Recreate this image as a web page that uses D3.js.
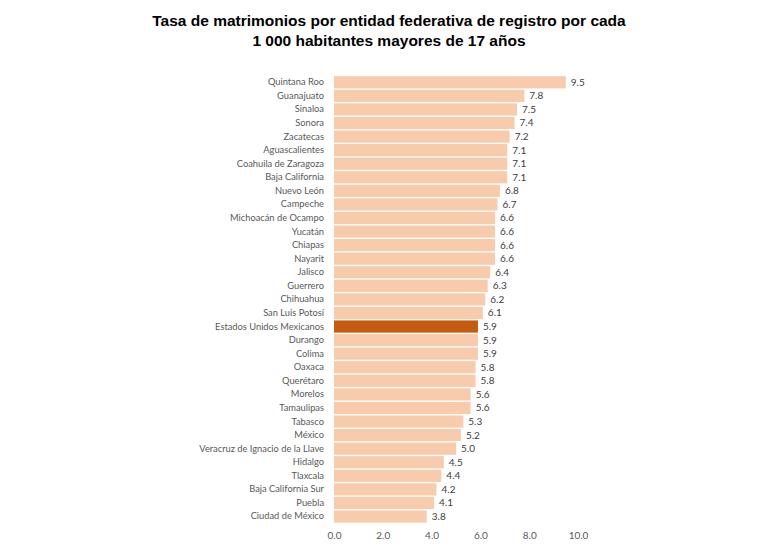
<!DOCTYPE html>
<html>
<head>
<meta charset="utf-8">
<script src="https://cdn.jsdelivr.net/npm/d3@7"></script>
<style>
    body { margin: 0; background: #fff; }
    svg text { font-family: Lato, "Open Sans", sans-serif; }
</style>
</head>
<body>
<div id="chart"></div>
<script>
// Entities, top to bottom
const entidades = [
    "Quintana Roo", "Guanajuato", "Sinaloa", "Sonora", "Zacatecas",
    "Aguascalientes", "Coahuila de Zaragoza", "Baja California", "Nuevo León",
    "Campeche", "Michoacán de Ocampo", "Yucatán", "Chiapas", "Nayarit",
    "Jalisco", "Guerrero", "Chihuahua", "San Luis Potosí",
    "Estados Unidos Mexicanos", "Durango", "Colima", "Oaxaca", "Querétaro",
    "Morelos", "Tamaulipas", "Tabasco", "México",
    "Veracruz de Ignacio de la Llave", "Hidalgo", "Tlaxcala",
    "Baja California Sur", "Puebla", "Ciudad de México"
];
const tasas = [
    9.5, 7.8, 7.5, 7.4, 7.2, 7.1, 7.1, 7.1, 6.8, 6.7, 6.6, 6.6, 6.6, 6.6,
    6.4, 6.3, 6.2, 6.1, 5.9, 5.9, 5.9, 5.8, 5.8, 5.6, 5.6, 5.3, 5.2, 5.0,
    4.5, 4.4, 4.2, 4.1, 3.8
];
const nacional = "Estados Unidos Mexicanos";
const ticks = [0, 2, 4, 6, 8, 10];
const titulo = [
    "Tasa de matrimonios por entidad federativa de registro por cada",
    "1 000 habitantes mayores de 17 años"
];

const width = 778,
    height = 546;

const svg = d3
    .select("#chart")
    .append("svg")
    .attr("width", width)
    .attr("height", height);

// Title
svg.append("g")
    .selectAll("text")
    .data(titulo)
    .enter()
    .append("text")
    .attr("x", 389)
    .attr("y", (d, i) => 26 + i * 20)
    .attr("text-anchor", "middle")
    .style("font-family", "'Liberation Sans', Arial, sans-serif")
    .style("font-weight", "bold")
    .style("font-size", "15.5px")
    .attr("fill", "#000")
    .text((d) => d);

const x = d3.scaleLinear().domain([0, 10]).range([334, 578]);

const y = d3
    .scaleBand()
    .domain(entidades)
    .range([75.5, 523.3])
    .paddingInner(0.1)
    .paddingOuter(0.05);

const data = entidades.map((e, i) => ({ nombre: e, valor: tasas[i] }));

// Bars
svg.append("g")
    .selectAll("rect")
    .data(data)
    .enter()
    .append("rect")
    .attr("x", x(0))
    .attr("y", (d) => y(d.nombre))
    .attr("width", (d) => x(d.valor) - x(0))
    .attr("height", y.bandwidth())
    .attr("fill", (d) => (d.nombre === nacional ? "#c55a11" : "#f8cbad"));

// Value labels
svg.append("g")
    .selectAll("text")
    .data(data)
    .enter()
    .append("text")
    .attr("x", (d) => x(d.valor) + 5)
    .attr("y", (d) => y(d.nombre) + y.bandwidth() / 2)
    .attr("dy", "0.35em")
    .style("font-size", "10px")
    .attr("fill", "#404040")
    .text((d) => d.valor.toFixed(1));

// Category axis
const yAxis = svg
    .append("g")
    .attr("transform", "translate(" + x(0) + ",0)")
    .call(d3.axisLeft(y).tickSize(0).tickPadding(10));
yAxis.select(".domain").remove();
yAxis.selectAll("text").style("font-size", "9.3px").attr("fill", "#595959");

// Value axis
const xAxis = svg
    .append("g")
    .attr("transform", "translate(0,526)")
    .call(
        d3.axisBottom(x).tickValues(ticks).tickSize(0).tickPadding(6)
            .tickFormat(d3.format(".1f"))
    );
xAxis.select(".domain").remove();
xAxis.selectAll("text").style("font-size", "10px").attr("fill", "#595959");
</script>
</body>
</html>
